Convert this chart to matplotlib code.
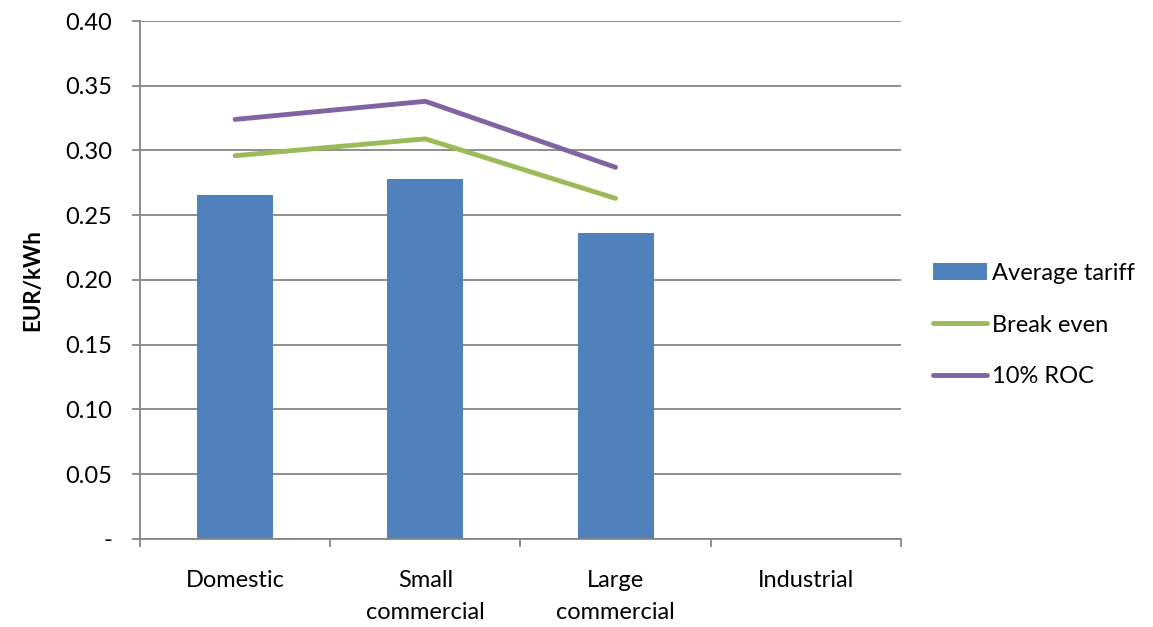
import matplotlib
matplotlib.use("Agg")
import matplotlib.pyplot as plt
import numpy as np

plt.rcParams['font.family'] = ['Lato', 'DejaVu Sans']

# Data
categories = ["Domestic", "Small\ncommercial", "Large\ncommercial", "Industrial"]
average_tariff = [0.266, 0.278, 0.236, np.nan]
break_even = [0.296, 0.309, 0.263, np.nan]
roc_10 = [0.324, 0.338, 0.287, np.nan]
y_ticks = [0, 0.05, 0.10, 0.15, 0.20, 0.25, 0.30, 0.35, 0.40]
y_labels = ["-", "0.05", "0.10", "0.15", "0.20", "0.25", "0.30", "0.35", "0.40"]

fig = plt.figure(figsize=(11.53, 6.27), dpi=100)
ax = fig.add_axes([0.1214, 0.1404, 0.66, 0.8261])

x = np.arange(len(categories))
grid_col = '#868686'

bars = ax.bar(x, average_tariff, width=0.4, color='#4f81bd', label='Average tariff', zorder=2)
l1, = ax.plot(x, break_even, color='#9bbb59', linewidth=3.5, solid_capstyle='round', label='Break even', zorder=3)
l2, = ax.plot(x, roc_10, color='#8064a2', linewidth=3.5, solid_capstyle='round', label='10% ROC', zorder=3)

ax.set_xlim(-0.5, len(categories) - 0.5)
ax.set_ylim(0, 0.40)
ax.set_yticks(y_ticks)
ax.set_yticklabels(y_labels, fontsize=17)
ax.yaxis.grid(True, color=grid_col, linewidth=1.3, zorder=0)

ax.set_xticks(x)
ax.set_xticklabels(categories, fontsize=17, linespacing=1.65, va='top')
ax.set_xticks(np.arange(len(categories) + 1) - 0.5, minor=True)
ax.tick_params(axis='x', which='major', length=0, pad=22)
ax.tick_params(axis='x', which='minor', length=6, width=1.3, color=grid_col, direction='out')
ax.tick_params(axis='y', length=6, width=1.3, color=grid_col, direction='out', pad=14)

for side in ['top', 'right']:
    ax.spines[side].set_visible(False)
for side in ['left', 'bottom']:
    ax.spines[side].set_color(grid_col)
    ax.spines[side].set_linewidth(1.3)

ax.set_ylabel("EUR/kWh", fontsize=16, fontweight='bold', labelpad=16)

ax.legend([bars, l1, l2], ['Average tariff', 'Break even', '10% ROC'],
          loc='center left', bbox_to_anchor=(1.02, 0.413), frameon=False, fontsize=17,
          handlelength=2.3, handletextpad=0.2, labelspacing=1.3, borderpad=0.2)

fig.savefig("out.png", dpi=100)
